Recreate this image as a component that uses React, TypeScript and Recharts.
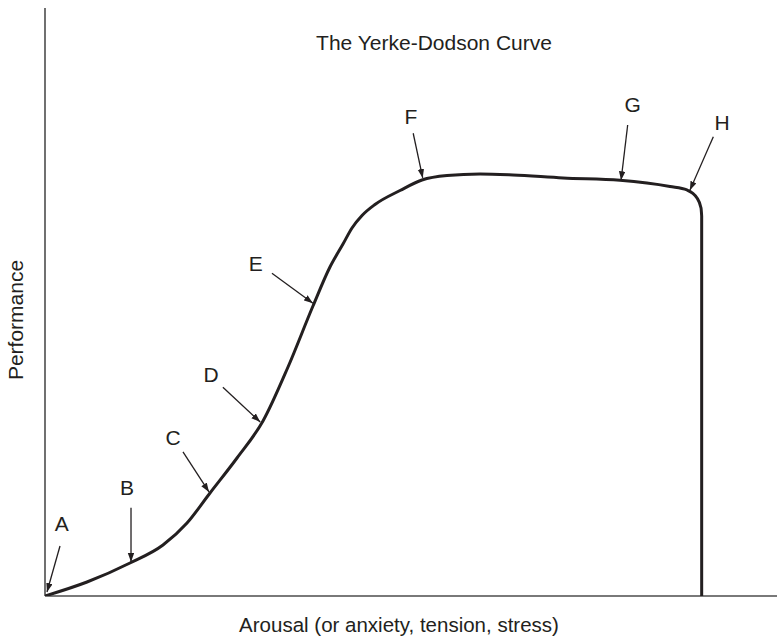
import React from 'react';
import { LineChart, Line, XAxis, YAxis, ReferenceLine, ReferenceDot } from 'recharts';

// Curve (arousal 0-100, performance 0-100)
const arousal = [0, 5.74, 11.61, 16.12, 19.4, 22.54, 26.23, 29.78, 33.2, 36.61, 38.93, 40.71, 41.94, 43.31, 45.08, 48.5, 51.5, 54.92, 59.43, 63.93, 70.77, 78.55, 85.38, 87.7, 89.07, 89.62, 89.71];
const performance = [0, 2.38, 5.61, 8.67, 12.41, 17.52, 23.47, 29.76, 38.95, 49.32, 55.95, 59.86, 62.59, 64.71, 66.58, 68.96, 70.75, 71.51, 71.77, 71.6, 71.09, 70.7, 69.64, 69.05, 67.69, 65.99, 64.63];

// Sudden collapse at the end
const dropArousal = [89.71, 89.71];
const dropPerformance = [64.63, 0];

// Annotation arrows A–H
const pointLabels = ['A', 'B', 'C', 'D', 'E', 'F', 'G', 'H'];
const labelX = [2.3, 11.2, 17.5, 22.7, 28.8, 50.0, 80.3, 92.5];
const labelY = [12.4, 18.4, 27.0, 37.6, 56.5, 81.5, 83.5, 80.6];
const tailX = [2.05, 11.75, 18.85, 24.3, 31.0, 50.3, 79.6, 91.3];
const tailY = [8.5, 15.0, 24.5, 35.5, 54.9, 78.7, 80.1, 78.1];
const tipX = [0.27, 11.75, 22.4, 29.4, 36.6, 51.6, 78.7, 88.1];
const tipY = [0.68, 5.8, 17.7, 29.6, 49.8, 71.1, 70.7, 69.0];

const curveData = arousal.map((x, i) => ({ x, y: performance[i] }));
const dropData = dropArousal.map((x, i) => ({ x, y: dropPerformance[i] }));

const INK = '#231f20';
const AXIS = '#4d4d4d';
const FONT = '"Liberation Sans", Arial, Helvetica, sans-serif';

const ArrowShape = (p: any) => (
  <line x1={p.x1} y1={p.y1} x2={p.x2} y2={p.y2} stroke={INK} strokeWidth={1.3} markerEnd="url(#arrowHead)" />
);

export default function App() {
  return (
    <div style={{ width: 777, height: 637 }}>
      <style>{`body{margin:0}`}</style>
      <LineChart width={777} height={637} margin={{ top: 8, right: 0, bottom: 41, left: 45 }}>
        <defs>
          <marker id="arrowHead" markerUnits="userSpaceOnUse" markerWidth={10} markerHeight={7} refX={9} refY={3.25} orient="auto">
            <path d="M0,0 L9,3.25 L0,6.5 z" fill={INK} />
          </marker>
        </defs>
        <XAxis type="number" dataKey="x" domain={[0, 100]} hide allowDataOverflow />
        <YAxis type="number" dataKey="y" domain={[0, 100]} hide allowDataOverflow />
        <ReferenceLine y={0} stroke={AXIS} strokeWidth={1.6} ifOverflow="visible" />
        <ReferenceLine x={0} stroke={AXIS} strokeWidth={1.6} ifOverflow="visible" />
        <Line data={curveData} dataKey="y" type="monotone" stroke={INK} strokeWidth={3} dot={false}
          activeDot={false} isAnimationActive={false} />
        <Line data={dropData} dataKey="y" type="linear" stroke={INK} strokeWidth={3} dot={false}
          activeDot={false} isAnimationActive={false} />
        {pointLabels.map((lab, i) => (
          <ReferenceLine key={'a' + lab} segment={[{ x: tailX[i], y: tailY[i] }, { x: tipX[i], y: tipY[i] }]}
            shape={ArrowShape} ifOverflow="visible" />
        ))}
        {pointLabels.map((lab, i) => (
          <ReferenceDot key={'l' + lab} x={labelX[i]} y={labelY[i]} r={0} stroke="none" fill="none" ifOverflow="visible"
            label={{ value: lab, position: 'center', fill: INK, fontSize: 21, fontFamily: FONT }} />
        ))}
        <text x={434} y={50} textAnchor="middle" fill={INK} fontSize={21} fontFamily={FONT}>The Yerke-Dodson Curve</text>
        <text x={399} y={632} textAnchor="middle" fill={INK} fontSize={20.5} fontFamily={FONT}>Arousal (or anxiety, tension, stress)</text>
        <text x={23} y={320} textAnchor="middle" fill={INK} fontSize={21} fontFamily={FONT} transform="rotate(-90 23 320)">Performance</text>
      </LineChart>
    </div>
  );
}
